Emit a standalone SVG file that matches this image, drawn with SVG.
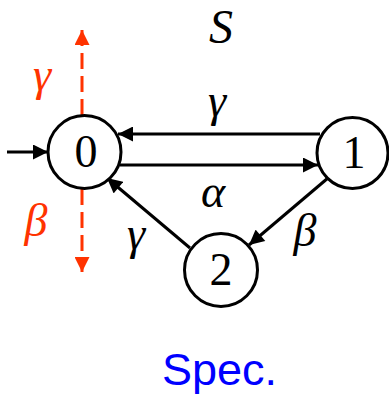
<svg xmlns="http://www.w3.org/2000/svg" width="389" height="397" viewBox="0 0 389 397">
<defs>
<marker id="ahb" viewBox="0 0 10 10" refX="10" refY="5" markerWidth="16" markerHeight="15" orient="auto" markerUnits="userSpaceOnUse">
<path d="M0,0 L10,5 L0,10 z" fill="#000"/>
</marker>
<marker id="ahr" viewBox="0 0 10 10" refX="10" refY="5" markerWidth="15" markerHeight="15" orient="auto" markerUnits="userSpaceOnUse">
<path d="M0,0 L10,5 L0,10 z" fill="#ff3300"/>
</marker>
</defs>
<style>
.edge{stroke:#000;stroke-width:3;fill:none;marker-end:url(#ahb)}
.red{stroke:#ff3300;stroke-width:3;fill:none;stroke-dasharray:16 7;marker-end:url(#ahr)}
.node{fill:#fff;stroke:#000;stroke-width:3}
</style>
<g id="connectors">
<line class="red" x1="82" y1="115" x2="82" y2="30"/>
<line class="red" x1="82" y1="189" x2="82" y2="272"/>
<line class="edge" x1="7" y1="152" x2="48" y2="152"/>
<line class="edge" x1="320" y1="134" x2="118" y2="134"/>
<line class="edge" x1="120" y1="165" x2="318" y2="165"/>
<line class="edge" x1="190" y1="248" x2="107" y2="178"/>
<line class="edge" x1="328" y1="178" x2="249" y2="245"/>
</g>
<g id="node0"><circle class="node" cx="84.5" cy="152" r="36.5"/><text x="86" y="167" font-family="'Liberation Serif','Times New Roman',serif" font-size="46" text-anchor="middle">0</text></g>
<g id="node1"><circle class="node" cx="352.5" cy="153" r="35.5"/><text x="354" y="168" font-family="'Liberation Serif','Times New Roman',serif" font-size="46" text-anchor="middle">1</text></g>
<g id="node2"><circle class="node" cx="221" cy="270" r="36.5"/><text x="221" y="285" font-family="'Liberation Serif','Times New Roman',serif" font-size="46" text-anchor="middle">2</text></g>
<g id="labels" font-family="'Liberation Serif','Times New Roman',serif" font-style="italic" text-anchor="middle" font-size="46">
<text x="221" y="43" font-size="48">S</text>
<text x="42" y="90" fill="#ff3300">γ</text>
<text x="217" y="116">γ</text>
<text x="213" y="207">α</text>
<text x="36" y="236" fill="#ff3300">β</text>
<text x="136" y="249">γ</text>
<text x="305" y="246">β</text>
</g>
<text id="spec" x="162" y="385" fill="#0000ff" font-family="'Liberation Sans',Arial,sans-serif" font-size="45">Spec.</text>
</svg>
